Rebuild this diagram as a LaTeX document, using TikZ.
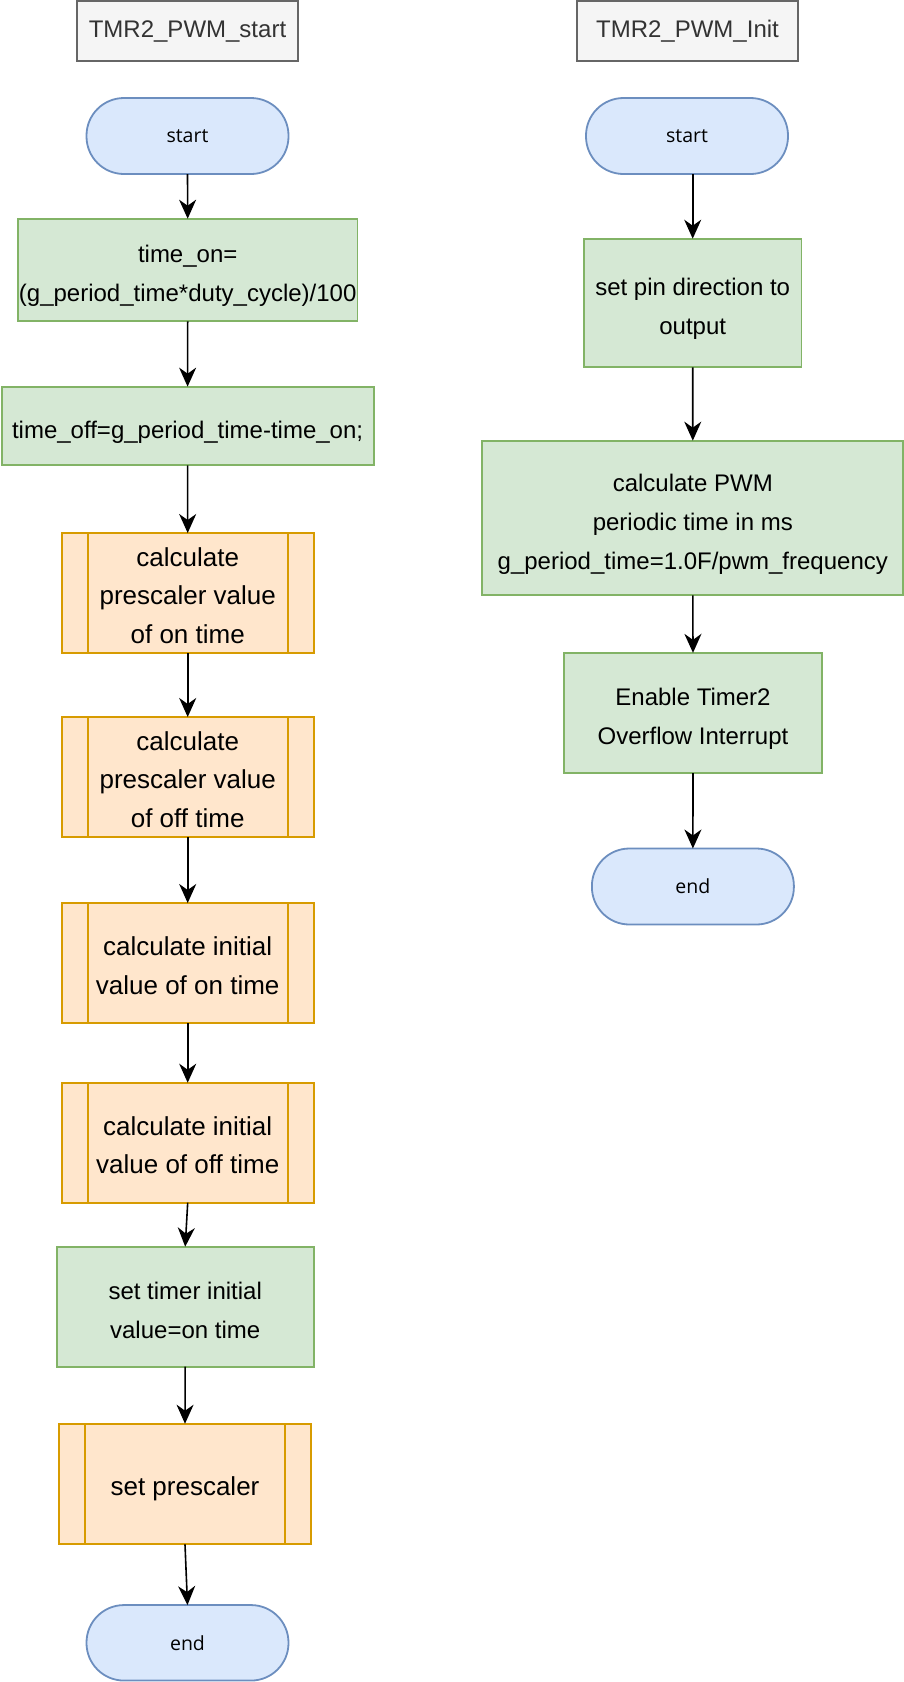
\documentclass[tikz,border=0pt]{standalone}
\usepackage{fontspec}
\setmainfont{Liberation Sans}
\newfontfamily\termfont{Open Sans}
\usetikzlibrary{arrows.meta}
\definecolor{bfill}{HTML}{DAE8FC}
\definecolor{bline}{HTML}{6C8EBF}
\definecolor{gfill}{HTML}{D5E8D4}
\definecolor{gline}{HTML}{82B366}
\definecolor{ofill}{HTML}{FFE6CC}
\definecolor{oline}{HTML}{D79B00}
\definecolor{tfill}{HTML}{F5F5F5}
\definecolor{tline}{HTML}{666666}
\definecolor{ttext}{HTML}{333333}
% uniform line struts (draw.io-like line boxes)
\newcommand{\gs}{\rule[-7.3pt]{0pt}{39pt}}
\newcommand{\os}{\rule[-7.45pt]{0pt}{38.5pt}}
\newcommand{\ts}{\rule[-8.5pt]{0pt}{29pt}}
\tikzset{
  base/.style={inner sep=0pt, outer sep=0pt, align=center, line width=1.8pt},
  term/.style={base, draw=bline, fill=bfill, rounded corners=37.5pt,
    minimum width=202pt, minimum height=76pt,
    font=\termfont\fontsize{19.5}{23}\selectfont},
  gbox/.style={base, draw=gline, fill=gfill,
    font=\fontsize{24}{39}\selectfont},
  obox/.style={base, draw=oline, fill=ofill, minimum width=252pt, minimum height=120pt,
    font=\fontsize{26}{38.5}\selectfont,
    path picture={
      \draw[oline, line width=1.8pt]
        ([xshift=26pt]path picture bounding box.north west) -- ([xshift=26pt]path picture bounding box.south west)
        ([xshift=-26pt]path picture bounding box.north east) -- ([xshift=-26pt]path picture bounding box.south east);
    }},
  tbox/.style={base, draw=tline, fill=tfill, text=ttext, minimum width=221pt, minimum height=60pt,
    font=\fontsize{24}{29}\selectfont},
  arr/.style={line width=1.6pt, -{Stealth[length=19pt,width=17pt,inset=6pt]}}
}
\begin{document}
\begin{tikzpicture}[x=1pt,y=-1pt]
\useasboundingbox (0,0) rectangle (904,1682);
% left column
\node[tbox] (t1) at (187.5,31) {\ts TMR2\_PWM\_start};
\node[term] (s1) at (187.5,136) {start};
\node[gbox, minimum width=339.5pt, minimum height=102.6pt] (b1) at (187.7,270)
  {\gs time\_on=\\\gs (g\_period\_time*duty\_cycle)/100};
\node[gbox, minimum width=372pt, minimum height=78.7pt] (b2) at (187.6,426)
  {\gs time\_off=g\_period\_time-time\_on;};
\node[obox] (o1) at (187.7,593) {\os calculate\\\os prescaler value\\\os of on time};
\node[obox] (o2) at (187.7,777) {\os calculate\\\os prescaler value\\\os of off time};
\node[obox] (o3) at (187.7,963) {\os calculate initial\\\os value of on time};
\node[obox] (o4) at (187.7,1142.7) {\os calculate initial\\\os value of off time};
\node[gbox, minimum width=257pt, minimum height=120pt] (b3) at (185.2,1306.7)
  {\gs set timer initial\\\gs value=on time};
\node[obox, minimum height=120.6pt] (o5) at (185,1484) {\os set prescaler};
\node[term, minimum height=75.5pt] (e1) at (187.5,1642.8) {end};
% right column
\node[tbox] (t2) at (687.5,31) {\ts TMR2\_PWM\_Init};
\node[term] (s2) at (687,136) {start};
\node[gbox, minimum width=217.5pt, minimum height=128.6pt] (p1) at (692.7,303)
  {\gs set pin direction to\\\gs output};
\node[gbox, minimum width=421pt, minimum height=154.7pt] (p2) at (692.8,518)
  {\gs calculate PWM\\\gs periodic time in ms\\\gs g\_period\_time=1.0F/pwm\_frequency};
\node[gbox, minimum width=257.4pt, minimum height=120.3pt] (p3) at (693,713)
  {\gs Enable Timer2\\\gs Overflow Interrupt};
\node[term] (e2) at (692.9,886.5) {end};
% connectors
\draw[arr] (s1.south) -- (b1.north);
\draw[arr] (b1.south) -- (b2.north);
\draw[arr] (b2.south) -- (o1.north);
\draw[arr] (o1.south) -- (o2.north);
\draw[arr] (o2.south) -- (o3.north);
\draw[arr] (o3.south) -- (o4.north);
\draw[arr] (o4.south) -- (b3.north);
\draw[arr] (b3.south) -- (o5.north);
\draw[arr] (o5.south) -- (e1.north);
\draw[arr] (s2.south -| p1.north) -- (p1.north);
\draw[arr] (p1.south) -- (p2.north);
\draw[arr] (p2.south) -- (p3.north);
\draw[arr] (p3.south) -- (e2.north);
\end{tikzpicture}
\end{document}
